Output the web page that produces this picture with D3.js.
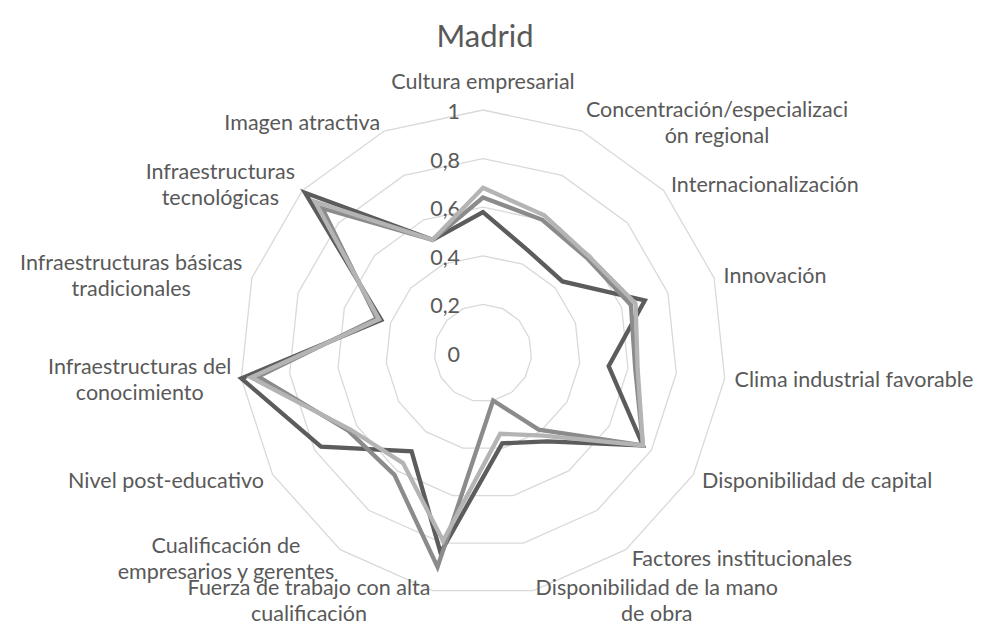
<!DOCTYPE html>
<html>
<head>
<meta charset="utf-8">
<script src="https://cdn.jsdelivr.net/npm/d3@7"></script>
<style>
  body { margin: 0; background: #fff; }
  svg { display: block; font-family: Lato, "Open Sans", sans-serif; }
</style>
</head>
<body>
<svg id="chart" width="987" height="626"></svg>
<script>
// category labels, already split the way the original wraps them
var categories = [
    ["Cultura empresarial"],
    ["Concentración/especializaci", "ón regional"],
    ["Internacionalización"],
    ["Innovación"],
    ["Clima industrial favorable"],
    ["Disponibilidad de capital"],
    ["Factores institucionales"],
    ["Disponibilidad de la mano", "de obra"],
    ["Fuerza de trabajo con alta", "cualificación"],
    ["Cualificación de", "empresarios y gerentes"],
    ["Nivel post-educativo"],
    ["Infraestructuras del", "conocimiento"],
    ["Infraestructuras básicas", "tradicionales"],
    ["Infraestructuras", "tecnológicas"],
    ["Imagen atractiva"]
];

var serieA = [0.58, 0.46, 0.44, 0.70, 0.52, 0.76, 0.45, 0.38, 0.84, 0.50, 0.77, 1.00, 0.44, 0.985, 0.51];
var serieB = [0.64, 0.60, 0.58, 0.64, 0.63, 0.76, 0.39, 0.20, 0.90, 0.62, 0.64, 0.93, 0.46, 0.89, 0.51];
var serieC = [0.68, 0.62, 0.59, 0.66, 0.64, 0.76, 0.42, 0.34, 0.79, 0.56, 0.63, 0.96, 0.45, 0.93, 0.51];

var ticks = [0, 0.2, 0.4, 0.6, 0.8, 1];
var tickLabels = ["0", "0,2", "0,4", "0,6", "0,8", "1"];

var svg = d3.select("#chart");
var width = +svg.attr("width"),
    height = +svg.attr("height");

var cx = 483, cy = 353, R = 243;
var textColor = "#595959";
var fontSize = 21.5;

svg.append("rect")
    .attr("width", width)
    .attr("height", height)
    .style("fill", "white");

svg.append("text")
    .attr("x", cx + 2)
    .attr("y", 35)
    .attr("text-anchor", "middle")
    .attr("dominant-baseline", "central")
    .style("font-size", "31px")
    .style("fill", textColor)
    .text("Madrid");

var r = d3.scaleLinear().domain([0, 1]).range([0, R]);
var n = categories.length;
var angle = function(i) { return i * 2 * Math.PI / n; };

var g = svg.append("g").attr("transform", "translate(" + cx + "," + cy + ")");

// rings
var ring = d3.lineRadial()
    .angle(function(d, i) { return angle(i); })
    .radius(function(d) { return r(d); })
    .curve(d3.curveLinearClosed);

g.append("g").selectAll("path")
    .data(ticks.filter(function(t) { return t > 0; }))
    .enter().append("path")
    .attr("d", function(t) { return ring(d3.range(n).map(function() { return t; })); })
    .style("fill", "none")
    .style("stroke", "#d9d9d9")
    .style("stroke-width", 1.3);

// tick labels
g.append("g").selectAll("text")
    .data(ticks)
    .enter().append("text")
    .attr("x", -23)
    .attr("y", function(t) { return -r(t) + 1; })
    .attr("text-anchor", "end")
    .attr("dominant-baseline", "central")
    .style("font-size", fontSize + "px")
    .style("fill", textColor)
    .text(function(t, i) { return tickLabels[i]; });

// series
var series = [
    { values: serieA, color: "#5c5c5c" },
    { values: serieB, color: "#8b8b8b" },
    { values: serieC, color: "#b4b4b4" }
];

g.append("g").selectAll("path")
    .data(series)
    .enter().append("path")
    .attr("d", function(s) { return ring(s.values); })
    .style("fill", "none")
    .style("stroke", function(s) { return s.color; })
    .style("stroke-width", 4.3)
    .style("stroke-linejoin", "miter");

// category labels
var lineH = 26;
var labels = g.append("g").selectAll("g")
    .data(categories)
    .enter().append("g");

labels.each(function(lines, i) {
    var el = d3.select(this);
    var a = angle(i);
    var s = Math.sin(a), c = Math.cos(a);
    var ax = (R + 10) * s, ay = -(R + 10) * c;

    var txt = el.selectAll("text")
        .data(lines)
        .enter().append("text")
        .attr("text-anchor", "middle")
        .attr("dominant-baseline", "central")
        .style("font-size", fontSize + "px")
        .style("fill", textColor)
        .text(function(d) { return d; });

    var w = 0;
    txt.each(function() { w = Math.max(w, this.getComputedTextLength()); });
    var h = lines.length * lineH;

    var mx;
    if (s > 0.05) mx = ax + w / 2;
    else if (s < -0.05) mx = ax - w / 2;
    else mx = ax;

    var my = ay;
    if (Math.abs(s) <= 0.05) my = ay - c * (h / 2 + 6);

    txt.attr("x", mx)
       .attr("y", function(d, k) { return my - h / 2 + lineH / 2 + k * lineH; });
});
</script>
</body>
</html>
